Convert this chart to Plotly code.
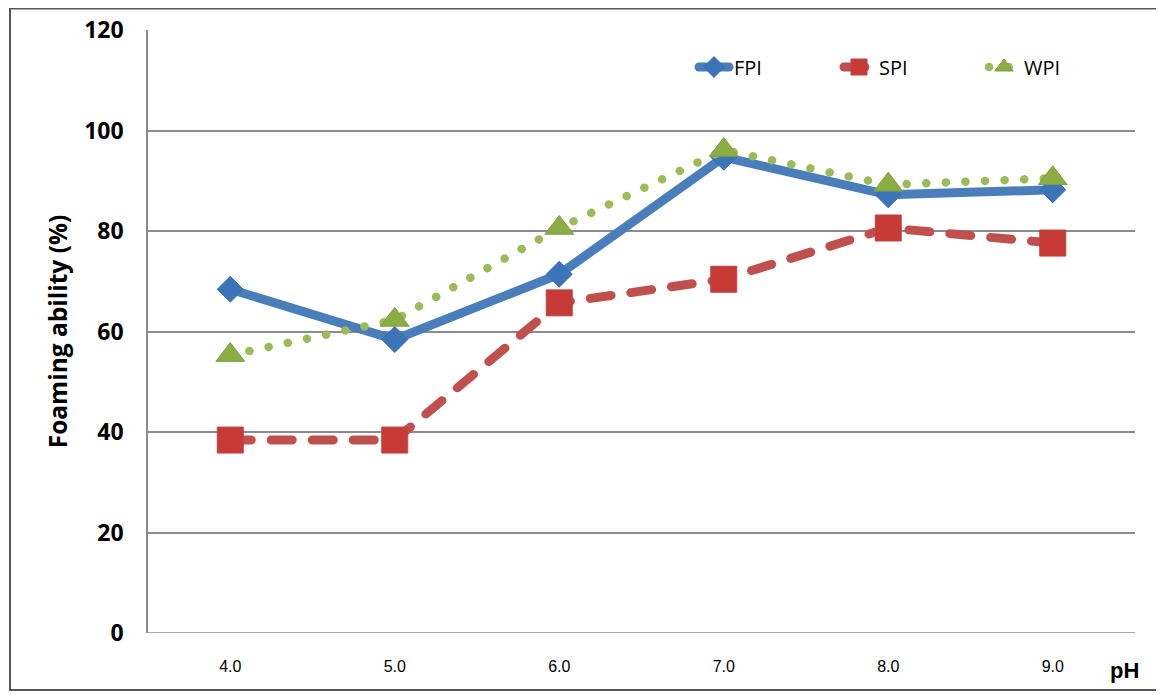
import plotly.graph_objects as go

ph = ["4.0", "5.0", "6.0", "7.0", "8.0", "9.0"]
fpi = [68.4, 58.4, 71.4, 94.7, 87.2, 88.2]
spi = [38.4, 38.4, 65.7, 70.4, 80.6, 77.6]
wpi = [55.3, 62.3, 80.6, 96.1, 89.2, 90.5]
y_ticks = [0, 20, 40, 60, 80, 100, 120]

# page body has an 8px margin; the figure is sized so the plot area lands
# at screen x 148..1135, y 30..633
W, H = 1156, 687
ML, MT, PW, PH = 140, 22, 987, 603

fig = go.Figure()
fig.add_trace(go.Scatter(
    x=ph, y=fpi, name="FPI", mode="lines+markers",
    line=dict(color="#4A7EBB", width=9),
    marker=dict(symbol="diamond", size=20, color="#3C74BA",
                line=dict(color="#3A6FB0", width=1)),
))
fig.add_trace(go.Scatter(
    x=ph, y=spi, name="SPI", mode="lines+markers",
    line=dict(color="#C0504D", width=9, dash="21px,20px"),
    marker=dict(symbol="square", size=26, color="#C83A36",
                line=dict(color="#B84744", width=1)),
))
fig.add_trace(go.Scatter(
    x=ph, y=wpi, name="WPI", mode="lines+markers",
    line=dict(color="#9BBB59", width=8.5, dash="0.1px,19.5px"),
    marker=dict(symbol="triangle-up", size=25, color="#8AAE44",
                line=dict(color="#7E9F3E", width=1)),
))

def px_x(sx):
    return (sx - 8 - ML) / PW

def px_y(sy):
    return 1 - (sy - 8 - MT) / PH

fig.update_layout(
    width=W, height=H,
    margin=dict(l=ML, r=W - ML - PW, t=MT, b=H - MT - PH),
    paper_bgcolor="white", plot_bgcolor="white",
    font=dict(family="Liberation Sans, Arial, sans-serif", color="black"),
    showlegend=True,
    legend=dict(
        orientation="h", x=px_x(694), xanchor="left", y=px_y(67), yanchor="middle",
        font=dict(family="Open Sans, Calibri, sans-serif", size=20, color="black"),
        entrywidth=100, entrywidthmode="pixels",
        bgcolor="rgba(0,0,0,0)", tracegroupgap=0,
    ),
    xaxis=dict(
        type="category", range=[-0.5, 5.5], automargin=False,
        showgrid=False, zeroline=False, showline=False,
        tickfont=dict(size=16, family="Liberation Sans Narrow, Liberation Sans, Arial"),
        ticks="", ticklabelstandoff=22,
    ),
    yaxis=dict(
        range=[0, 120], tickvals=y_ticks, automargin=False,
        showgrid=True, gridcolor="#8C8C8C", gridwidth=1.5,
        zeroline=False, showline=True, linecolor="#8C8C8C", linewidth=1.5,
        tickfont=dict(size=23, family="Open Sans, Calibri, sans-serif", weight="bold"),
        ticks="", ticklabelstandoff=18,
        title=dict(text="Foaming ability (%)", standoff=10,
                   font=dict(size=24.5, family="Open Sans, Calibri, sans-serif", weight="bold")),
    ),
    shapes=[
        dict(type="rect", xref="paper", yref="paper",
             x0=px_x(10), x1=px_x(1160), y0=px_y(690), y1=px_y(8.5),
             line=dict(color="#555555", width=2), layer="below"),
        dict(type="line", xref="paper", yref="y", x0=0, x1=1, y0=0, y1=0,
             line=dict(color="#8C8C8C", width=1.5), layer="below"),
    ],
    annotations=[
        dict(text="pH", xref="paper", yref="paper", x=px_x(1124), y=px_y(670),
             xanchor="center", yanchor="middle", showarrow=False,
             font=dict(size=22, family="Liberation Sans, Arial", weight="bold")),
    ],
)

post = """
function roundCaps(){
  document.querySelectorAll('.scatterlayer .js-line, .legend .js-line').forEach(function(p){
    p.style.strokeLinecap = 'round';
  });
}
roundCaps();
var gd = document.getElementById('{plot_id}');
if (gd && gd.on) { gd.on('plotly_afterplot', roundCaps); }
"""

fig.write_html("out.html", post_script=post)
